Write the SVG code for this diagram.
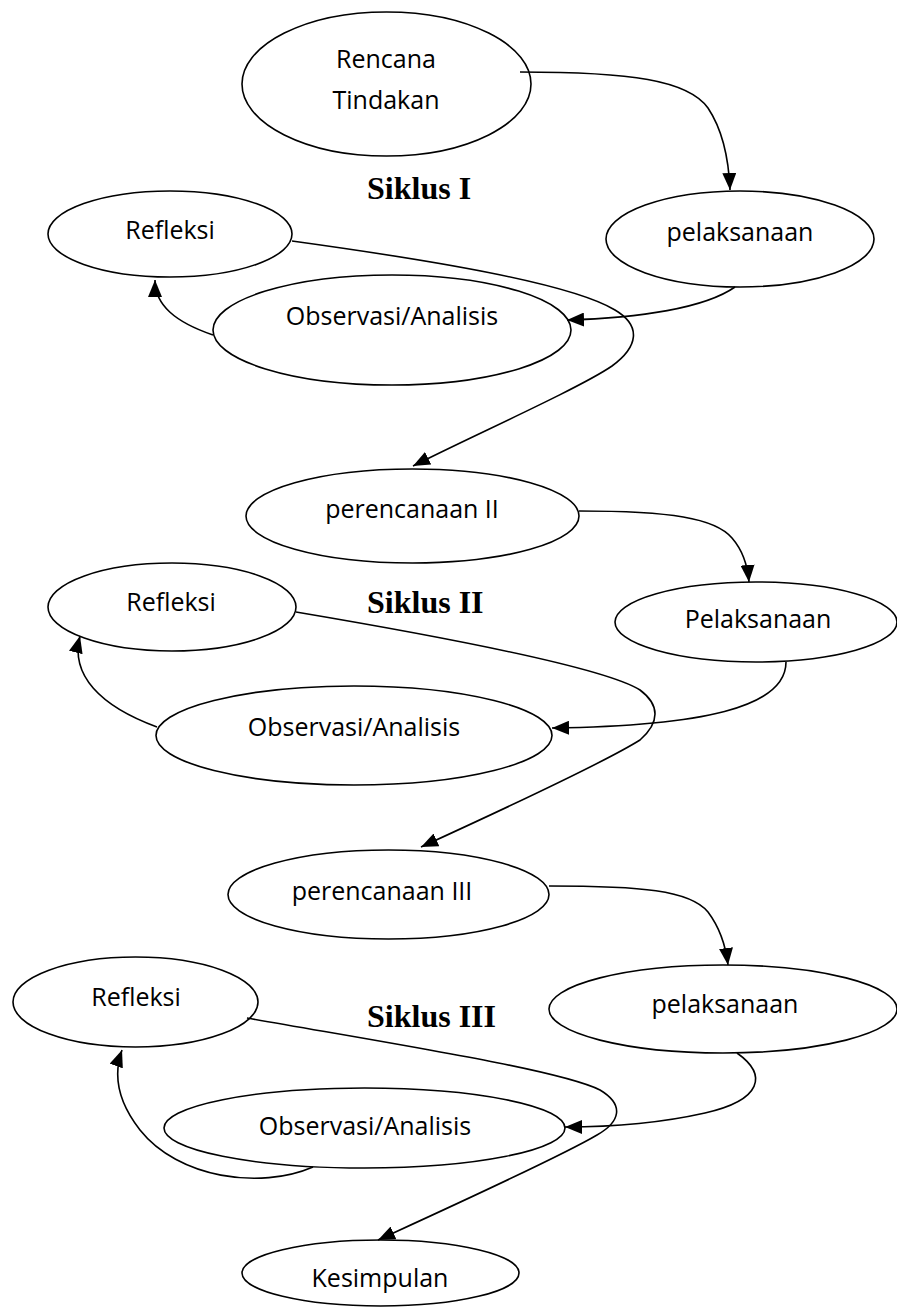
<svg xmlns="http://www.w3.org/2000/svg" width="897" height="1310" viewBox="0 0 897 1310">
<style>
.node ellipse{fill:#fff;stroke:#000;stroke-width:1.6}
.lbl{font-family:"Open Sans","Liberation Sans",sans-serif;font-size:25px;fill:#000;text-anchor:middle}
.cyc{font-family:"Liberation Serif","Times New Roman",serif;font-size:32px;font-weight:bold;fill:#000}
.edges path{fill:none;stroke:#000;stroke-width:1.6;marker-end:url(#ah)}
</style>
<defs>
<marker id="ah" viewBox="0 0 17 14" refX="17" refY="7" markerWidth="17" markerHeight="14" markerUnits="userSpaceOnUse" orient="auto">
<path d="M0,0 L17,7 L0,14 z" fill="#000"/>
</marker>
</defs>
<rect width="897" height="1310" fill="#fff"/>
<g id="rencana" class="node"><ellipse cx="386.5" cy="84" rx="144.5" ry="72"/><text class="lbl" x="386" y="68">Rencana</text><text class="lbl" x="386" y="109">Tindakan</text></g>
<g id="siklus1"><text class="cyc" x="367" y="199">Siklus I</text></g>
<g id="refleksi1" class="node"><ellipse cx="170" cy="234" rx="122" ry="43"/><text class="lbl" x="170" y="239">Refleksi</text></g>
<g id="pelaksanaan1" class="node"><ellipse cx="740" cy="239" rx="134" ry="48"/><text class="lbl" x="740" y="241">pelaksanaan</text></g>
<g id="observasi1" class="node"><ellipse cx="392" cy="330" rx="179" ry="55"/><text class="lbl" x="392" y="325">Observasi/Analisis</text></g>
<g id="perencanaan2" class="node"><ellipse cx="412.5" cy="516" rx="166.5" ry="47"/><text class="lbl" x="412" y="518">perencanaan II</text></g>
<g id="siklus2"><text class="cyc" x="367" y="613">Siklus II</text></g>
<g id="refleksi2" class="node"><ellipse cx="172" cy="607" rx="124" ry="44"/><text class="lbl" x="171" y="611">Refleksi</text></g>
<g id="pelaksanaan2" class="node"><ellipse cx="756" cy="622" rx="141" ry="40"/><text class="lbl" x="758" y="628">Pelaksanaan</text></g>
<g id="observasi2" class="node"><ellipse cx="354" cy="735.5" rx="198" ry="49.5"/><text class="lbl" x="354" y="736">Observasi/Analisis</text></g>
<g id="perencanaan3" class="node"><ellipse cx="388.5" cy="894.5" rx="160.5" ry="44.5"/><text class="lbl" x="382" y="900">perencanaan III</text></g>
<g id="siklus3"><text class="cyc" x="367" y="1027">Siklus III</text></g>
<g id="refleksi3" class="node"><ellipse cx="135.5" cy="1002" rx="122.5" ry="45"/><text class="lbl" x="136" y="1006">Refleksi</text></g>
<g id="pelaksanaan3" class="node"><ellipse cx="723" cy="1009" rx="174" ry="44"/><text class="lbl" x="725" y="1013">pelaksanaan</text></g>
<g id="observasi3" class="node"><ellipse cx="364.5" cy="1128" rx="200.5" ry="40"/><text class="lbl" x="365" y="1135">Observasi/Analisis</text></g>
<g id="kesimpulan" class="node"><ellipse cx="380.5" cy="1273" rx="138.5" ry="33"/><text class="lbl" x="380" y="1287">Kesimpulan</text></g>
<g id="connectors" class="edges">
<path d="M520,72 C630,72 688,80 708,108 C724,132 729,165 730,190"/>
<path d="M735,287 C705,308 640,318 567,320"/>
<path d="M213,335 C175,322 155,305 155,280"/>
<path d="M292,241 C430,260 570,283 615,310 C642,326 638,347 612,366 C580,388 470,437 413,466"/>
<path d="M579,511 C670,511 715,518 732,538 C745,553 748,570 749,582"/>
<path d="M786,662 C786,708 700,726 552,728"/>
<path d="M157,727 C100,706 70,675 80,636"/>
<path d="M296,612 C450,638 605,668 640,690 C660,705 660,722 640,740 C600,765 480,820 421,847"/>
<path d="M549,886 C640,886 690,890 708,912 C720,928 726,948 728,965"/>
<path d="M737,1053 C768,1075 762,1100 705,1113 C665,1122 615,1127 565,1127"/>
<path d="M313,1167 C260,1190 178,1178 140,1130 C118,1102 113,1075 122,1050"/>
<path d="M247,1018 C400,1045 560,1070 600,1090 C625,1105 620,1122 597,1135 C560,1157 450,1207 378,1240"/>
</g>
</svg>
